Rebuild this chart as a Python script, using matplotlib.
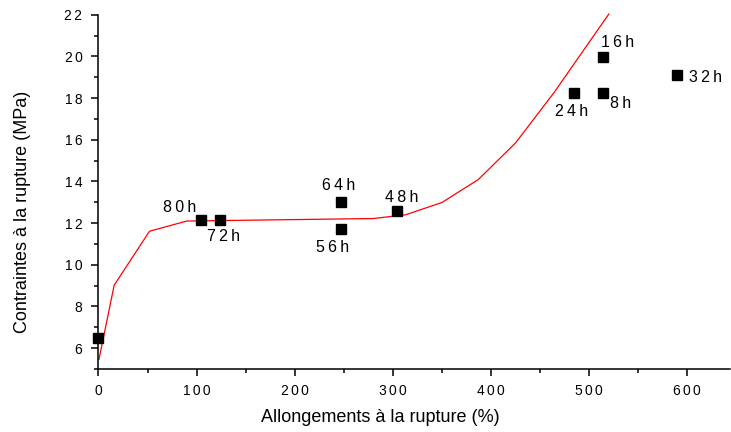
import matplotlib
matplotlib.use('Agg')
import matplotlib.pyplot as plt
from matplotlib.ticker import MultipleLocator, FuncFormatter

# measured points (elongation %, stress MPa) with their immersion time labels
pt_x = [0, 104, 124, 247, 247, 304, 485, 514, 514, 589]
pt_y = [6.5, 12.16, 12.16, 13.0, 11.72, 12.6, 18.24, 18.24, 19.97, 19.1]
pt_lab = ['', '80h', '72h', '64h', '56h', '48h', '24h', '8h', '16h', '32h']
# label offsets in pixels (left edge, baseline) from the marker centre
lab_dx = [0, -38, -13, -19, -25, -12, -19, 7, -2, 12]
lab_dy = [0, 8, -21, 12, -23, 9, -23, -15, 10, -7]

# red trend curve
fit_x = [0.5, 16, 52, 90, 280, 313, 350, 387, 425, 464, 520]
fit_y = [5.46, 9.02, 11.61, 12.1, 12.22, 12.4, 12.99, 14.09, 15.85, 18.25, 22.03]

plt.rcParams['font.family'] = ['Liberation Sans', 'DejaVu Sans']


def spaced(s, sp='\u2006'):
    # the original uses loose letter spacing
    return sp.join(s)


fig = plt.figure(figsize=(7.31, 4.32), dpi=100)
ax = fig.add_axes([0.1347, 0.1458, 0.8633, 0.8202])

ax.plot(fit_x, fit_y, color='red', lw=0.9, clip_on=False)
ax.plot(pt_x, pt_y, 's', color='black', ms=6.5, clip_on=False, zorder=3)

for x, y, lab, dx, dy in zip(pt_x, pt_y, pt_lab, lab_dx, lab_dy):
    if lab:
        ax.annotate(spaced(lab, '\u2009'), (x, y), xytext=(dx, dy),
                    textcoords='offset pixels',
                    ha='left', va='baseline', fontsize=11.5)

ax.set_xlim(0, 643)
ax.set_ylim(5, 22)
ax.xaxis.set_major_locator(MultipleLocator(100))
ax.xaxis.set_minor_locator(MultipleLocator(50))
ax.yaxis.set_major_locator(MultipleLocator(2))
ax.yaxis.set_minor_locator(MultipleLocator(1))
ax.set_yticks(range(6, 23, 2))
fmt = FuncFormatter(lambda v, p: spaced('%d' % v))
ax.xaxis.set_major_formatter(fmt)
ax.yaxis.set_major_formatter(fmt)

for s in ['top', 'right']:
    ax.spines[s].set_visible(False)
for s in ['left', 'bottom']:
    ax.spines[s].set_linewidth(1.1)

ax.tick_params(which='major', length=5, width=1.1, labelsize=10)
ax.tick_params(axis='x', which='major', pad=5.5)
ax.tick_params(axis='y', which='major', pad=6.5)
ax.tick_params(which='minor', length=3, width=1.1)

fig.text(380 / 731, 1 - 417 / 432, 'Allongements à la rupture (%)',
         fontsize=13, ha='center', va='center')
fig.text(23 / 731, 1 - 212 / 432, 'Contraintes à la rupture (MPa)',
         fontsize=13, ha='center', va='center', rotation=90)

fig.savefig('out.png', dpi=100)
